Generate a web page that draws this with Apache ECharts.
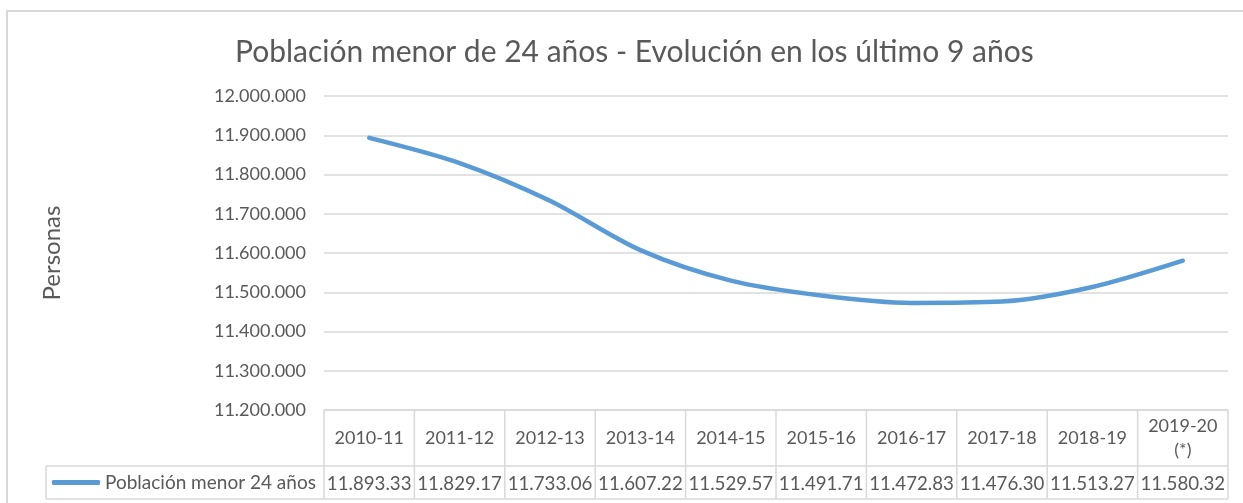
<!DOCTYPE html>
<html>
<head>
<meta charset="utf-8">
<script src="https://cdn.jsdelivr.net/npm/echarts@6/dist/echarts.min.js"></script>
<style>
html,body{margin:0;padding:0;background:#fff;}
#chart{width:1243px;height:503px;}
</style>
</head>
<body>
<div id="chart"></div>
<script>
// ---- data ----
const titleText = 'Población menor de 24 años - Evolución en los último 9 años';
const yAxisName = 'Personas';
const seriesName = 'Población menor 24 años';
const categories = ['2010-11', '2011-12', '2012-13', '2013-14', '2014-15', '2015-16', '2016-17', '2017-18', '2018-19', '2019-20\n(*)'];
const values = [11893330, 11829170, 11733060, 11607220, 11529570, 11491710, 11472830, 11476300, 11513270, 11580320];
const yMin = 11200000, yMax = 12000000, yStep = 100000;

// ---- helpers ----
function fmtDots(v) {
  return String(Math.round(v)).replace(/\B(?=(\d{3})+(?!\d))/g, '.');
}
// Excel data table truncates the value to fit the cell width
function cellText(v) { return fmtDots(v).slice(0, 9); }

const FONT = 'Lato';
const TXT = '#595959';
const BORDER = '#d9d9d9';
const BLUE = '#5b9bd5';

const chart = echarts.init(document.getElementById('chart'), null, {renderer: 'canvas'});

const option = {
  backgroundColor: '#ffffff',
  animation: false,
  textStyle: {fontFamily: FONT},
  title: {
    text: titleText,
    left: 230,
    top: 32,
    textStyle: {fontFamily: FONT, fontSize: 30, fontWeight: 'normal', color: TXT}
  },
  graphic: [{
    type: 'rect',
    silent: true,
    shape: {x: 7, y: 11, width: 1260, height: 520},
    style: {fill: 'none', stroke: BORDER, lineWidth: 2}
  }],
  legend: {
    data: [seriesName],
    left: 52,
    top: 473,
    padding: 0,
    icon: 'roundRect',
    itemWidth: 48,
    itemHeight: 5,
    itemGap: 4,
    textStyle: {fontFamily: FONT, fontSize: 19, color: TXT},
    selectedMode: false
  },
  grid: [
    {left: 324, right: 15, top: 96, bottom: 93, containLabel: false},
    {left: 324, right: 15, top: 410, bottom: 4, containLabel: false}
  ],
  xAxis: [
    {
      type: 'category', gridIndex: 0, data: categories, boundaryGap: true,
      axisLine: {show: true, lineStyle: {color: BORDER, width: 1.5}},
      axisTick: {show: false}, axisLabel: {show: false}, splitLine: {show: false}
    },
    {
      type: 'category', gridIndex: 1, data: categories, boundaryGap: true, show: false
    }
  ],
  yAxis: [
    {
      type: 'value', gridIndex: 0, min: yMin, max: yMax, interval: yStep,
      name: yAxisName, nameLocation: 'middle', nameRotate: 90, nameGap: 260,
      nameTextStyle: {fontFamily: FONT, fontSize: 24, color: TXT},
      axisLine: {show: false}, axisTick: {show: false},
      axisLabel: {formatter: fmtDots, fontFamily: FONT, fontSize: 18, color: TXT, margin: 18},
      splitLine: {show: true, lineStyle: {color: BORDER, width: 1.5}}
    },
    {type: 'value', gridIndex: 1, min: 0, max: 1, show: false}
  ],
  series: [
    {
      name: seriesName,
      type: 'line',
      xAxisIndex: 0, yAxisIndex: 0,
      data: values,
      smooth: 0.3,
      symbol: 'none',
      showSymbol: false,
      color: BLUE,
      lineStyle: {color: BLUE, width: 4.5, cap: 'round', join: 'round'},
      z: 5
    },
    {
      name: 'tabla',
      type: 'custom',
      xAxisIndex: 1, yAxisIndex: 1,
      data: categories.map((c, i) => [i, values[i]]),
      silent: true,
      renderItem: function (params, api) {
        const i = api.value(0);
        const cs = params.coordSys;
        const cx = api.coord([i, 0])[0];
        const w = api.size([1, 0])[0];
        const x0 = cx - w / 2, x1 = cx + w / 2;
        const top = cs.y, bottom = cs.y + cs.height;
        const mid = top + cs.height * 56 / 89;
        const ls = {stroke: BORDER, lineWidth: 1.5};
        const children = [
          {type: 'line', shape: {x1: x0, y1: top, x2: x0, y2: bottom}, style: ls},
          {type: 'line', shape: {x1: x0, y1: mid, x2: x1, y2: mid}, style: ls},
          {type: 'line', shape: {x1: x0, y1: bottom, x2: x1, y2: bottom}, style: ls},
          {type: 'text', style: {x: cx, y: (top + mid) / 2, text: categories[i], align: 'center', verticalAlign: 'middle',
            fill: TXT, font: '18px ' + FONT, lineHeight: 24}},
          {type: 'text', style: {x: cx, y: (mid + bottom) / 2 + 1, text: cellText(api.value(1)), align: 'center', verticalAlign: 'middle',
            fill: TXT, font: '18.7px ' + FONT}}
        ];
        if (i === categories.length - 1) {
          children.push({type: 'line', shape: {x1: x1, y1: top, x2: x1, y2: bottom}, style: ls});
        }
        if (i === 0) {
          const lx = cs.x - 278;
          children.push({type: 'line', shape: {x1: lx, y1: mid, x2: x0, y2: mid}, style: ls});
          children.push({type: 'line', shape: {x1: lx, y1: bottom, x2: x0, y2: bottom}, style: ls});
          children.push({type: 'line', shape: {x1: lx, y1: mid, x2: lx, y2: bottom}, style: ls});
        }
        return {type: 'group', children: children};
      }
    }
  ]
};
chart.setOption(option);
</script>
</body>
</html>
